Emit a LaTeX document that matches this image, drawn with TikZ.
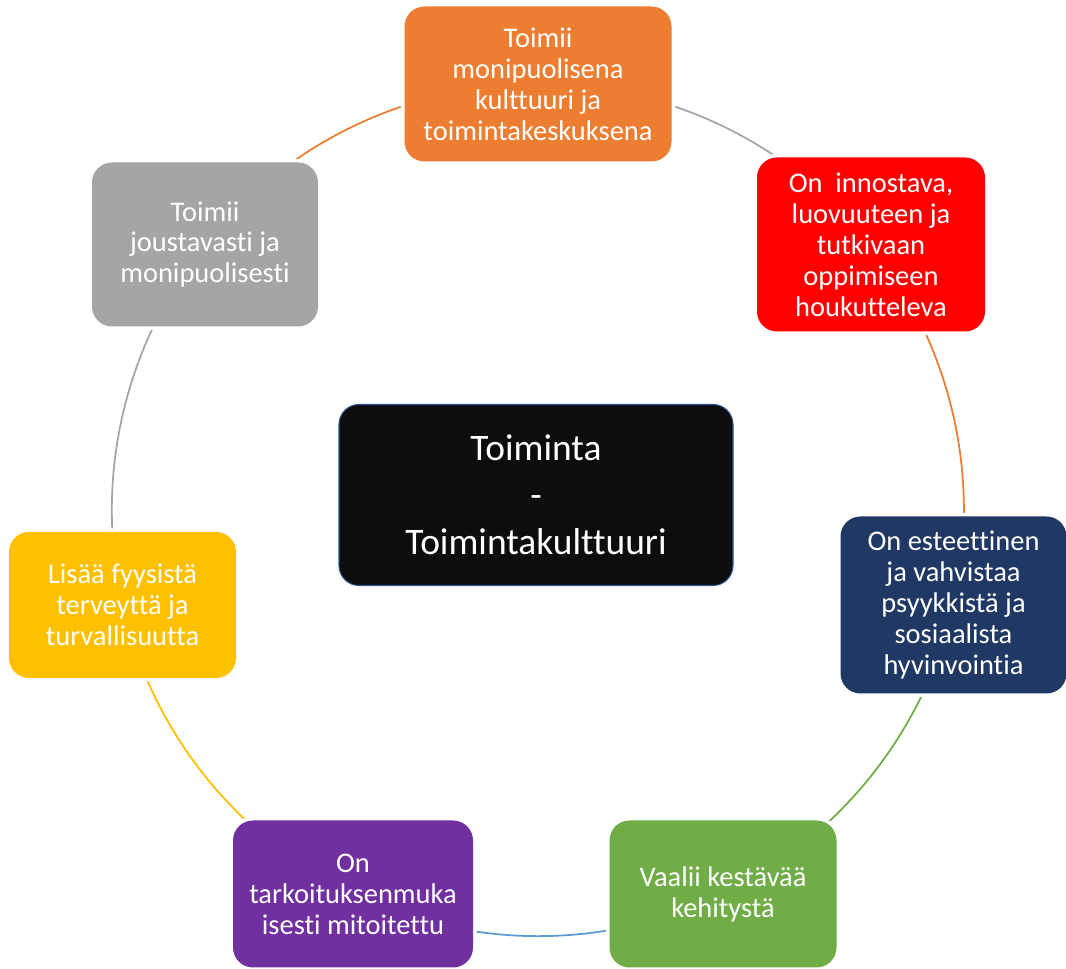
\documentclass[tikz,border=0pt]{standalone}
\usepackage{fontspec}
\setmainfont{Carlito}[Ligatures=NoCommon]
\usepackage{tikz}
\usetikzlibrary{calc, positioning, backgrounds}

\definecolor{cOrange}{HTML}{ED7D31}
\definecolor{cRed}{HTML}{FF0000}
\definecolor{cNavy}{HTML}{203864}
\definecolor{cGreen}{HTML}{70AD47}
\definecolor{cPurple}{HTML}{7030A0}
\definecolor{cYellow}{HTML}{FFC000}
\definecolor{cGray}{HTML}{A5A5A5}
\definecolor{cBlue}{HTML}{5B9BD5}
\definecolor{cBlack}{HTML}{0D0D0D}
\definecolor{cEdge}{HTML}{2F528F}

\begin{document}
\begin{tikzpicture}

\tikzstyle{box} = [rounded corners=0.4cm, inner sep=0pt, align=center, text=white,
  font=\fontsize{16.2}{17.6}\selectfont, preaction={draw=white, line width=4pt}];
\tikzstyle{ring} = [line width=1pt];

\useasboundingbox (0,0) rectangle (21.32,19.38);

\node(mid) [box, fill=cBlack, draw=cEdge, line width=0.6pt, minimum width=7.88cm, minimum height=3.62cm,
  font=\fontsize{21.3}{26.6}\selectfont] at (10.72,9.48) {Toiminta\\-\\Toimintakulttuuri};

\node(culture) [box, fill=cOrange, minimum width=5.34cm, minimum height=3.1cm] at (10.76,17.70)
  {Toimii\\monipuolisena\\kulttuuri ja\\toimintakeskuksena};
\node(inspire) [box, fill=cRed, minimum width=4.56cm, minimum height=3.48cm] at (17.42,14.49)
  {On\ \ innostava,\\luovuuteen ja\\tutkivaan\\oppimiseen\\houkutteleva};
\node(aesthetic) [box, fill=cNavy, minimum width=4.52cm, minimum height=3.54cm] at (19.07,7.28)
  {On esteettinen\\ja vahvistaa\\psyykkistä ja\\sosiaalista\\hyvinvointia};
\node(sustain) [box, fill=cGreen, minimum width=4.54cm, minimum height=2.94cm] at (14.46,1.50)
  {Vaalii kestävää\\kehitystä};
\node(sized) [box, fill=cPurple, minimum width=4.8cm, minimum height=2.94cm] at (7.06,1.50)
  {On\\tarkoituksenmuka\\isesti mitoitettu};
\node(health) [box, fill=cYellow, minimum width=4.54cm, minimum height=2.92cm] at (2.45,7.28)
  {Lisää fyysistä\\terveyttä ja\\turvallisuutta};
\node(flex) [box, fill=cGray, minimum width=4.52cm, minimum height=3.28cm] at (4.10,14.49)
  {Toimii\\joustavasti ja\\monipuolisesti};

% ring segments behind the boxes
\begin{scope}[on background layer]
\draw [ring, cGray] (culture.center) arc[start angle=90, end angle=38.57, radius=8.52];
\draw [ring, cOrange] (inspire.center) arc[start angle=38.57, end angle=-12.86, radius=8.52];
\draw [ring, cGreen] (aesthetic.center) arc[start angle=-12.86, end angle=-64.29, radius=8.52];
\draw [ring, cBlue] (sustain.center) arc[start angle=-64.29, end angle=-115.71, radius=8.52];
\draw [ring, cYellow] (sized.center) arc[start angle=-115.71, end angle=-167.14, radius=8.52];
\draw [ring, cGray] (health.center) arc[start angle=-167.14, end angle=-218.57, radius=8.52];
\draw [ring, cOrange] (flex.center) arc[start angle=141.43, end angle=90, radius=8.52];
\end{scope}

\end{tikzpicture}
\end{document}
